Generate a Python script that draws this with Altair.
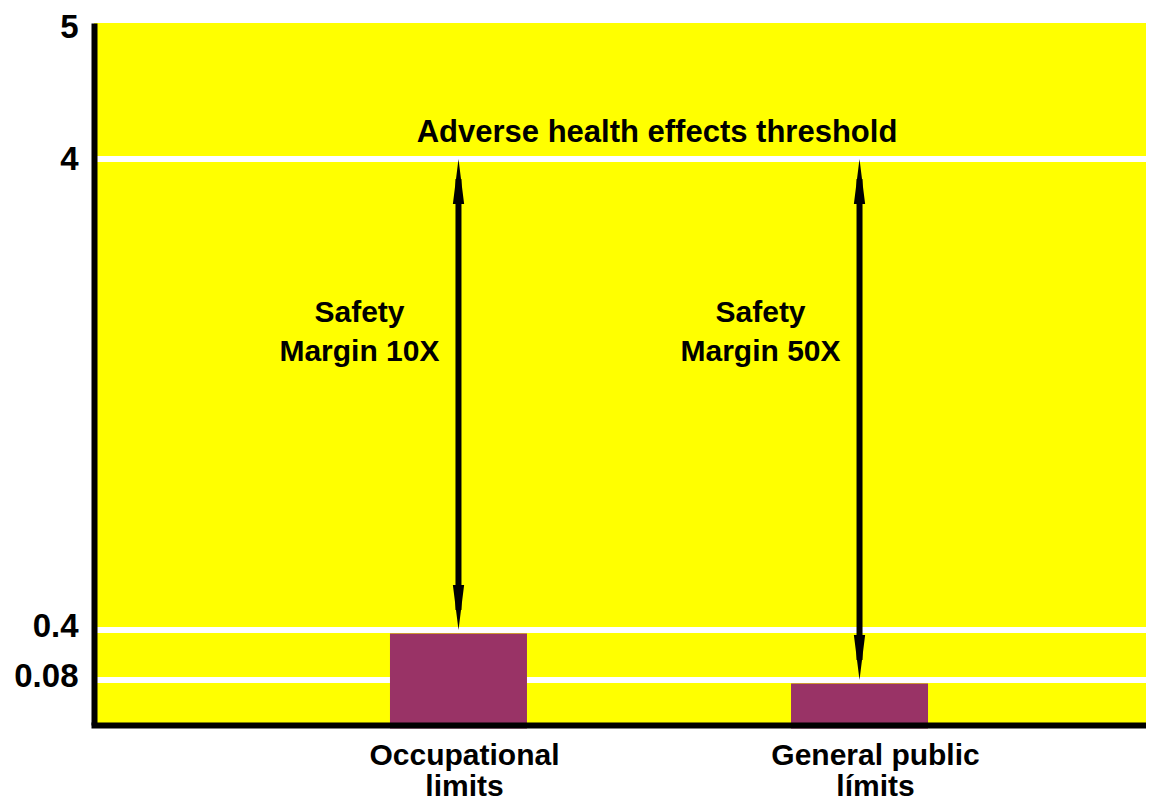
import altair as alt
import pandas as pd

# ---- data ----
categories = ["Occupational limits", "General public límits"]
limit_values = [0.4, 0.08]
threshold_value = 4
margin_labels = ["Safety\nMargin 10X", "Safety\nMargin 50X"]
margin_label_y = [2.82, 2.82]
y_ticks = [0.08, 0.4, 4, 5]
grid_values = [0.08, 0.4, 4]
threshold_label = ["Adverse health effects threshold"]
threshold_label_y = [4.19]

FONT = "Liberation Sans"

df = pd.DataFrame({
    "category": categories,
    "value": limit_values,
    "top": [threshold_value] * len(categories),
    "margin": margin_labels,
    "my": margin_label_y,
})
grid_df = pd.DataFrame({"v": grid_values})
thr_df = pd.DataFrame({"label": threshold_label, "y": threshold_label_y})

xscale = alt.Scale(domain=categories, range=[0, 1130], paddingInner=0.6584, paddingOuter=0.738)
yscale = alt.Scale(type="linear", domain=[0, 0.08, 0.4, 4, 5],
                   range=[702, 657, 607, 136, 0], nice=False, zero=False)

x_axis = alt.Axis(
    title=None, labelFontSize=30, labelFont=FONT, labelFontWeight="bold",
    labelColor="black", labelAngle=0, ticks=False, domainColor="black",
    domainWidth=6, domainCap="square", labelPadding=15, labelLineHeight=31,
    labelLimit=0, labelOverlap=False, zindex=1,
    labelOffset=alt.condition("indexof(datum.value, 'General') >= 0", alt.value(16), alt.value(6)),
    labelExpr="[slice(datum.label, 0, lastindexof(datum.label, ' ')), slice(datum.label, lastindexof(datum.label, ' ') + 1)]",
)
y_axis = alt.Axis(
    values=y_ticks, format="~g", title=None, grid=False, ticks=False,
    domainColor="black", domainWidth=6, labelFontSize=33, labelFont=FONT,
    labelFontWeight="bold", labelColor="black", labelPadding=16,
    labelOverlap=False, labelBound=False, zindex=1,
    labelOffset={"condition": [{"test": "datum.value == 5", "value": 4},
                               {"test": "datum.value < 1", "value": -4}],
                 "value": 0},
)


def X():
    return alt.X("category:N", scale=xscale, sort=categories, axis=x_axis)


def Y(field):
    return alt.Y(field, scale=yscale, axis=y_axis)


grid = alt.Chart(grid_df).mark_rule(color="white", strokeWidth=6).encode(
    y=Y("v:Q"),
)

bars = alt.Chart(df).mark_bar(color="#993366", yOffset=3.5).encode(
    x=X(),
    y=Y("value:Q"),
)

shaft = alt.Chart(df).mark_rule(color="black", strokeWidth=6, yOffset=20, y2Offset=-20).encode(
    x=X(),
    y=Y("top:Q"),
    y2="value:Q",
)

up_path = "M0,-1L0.25,1L-0.25,1Z"
down_path = "M0,1L0.25,-1L-0.25,-1Z"

head_up = alt.Chart(df).mark_point(
    shape=up_path, size=2025, filled=True, color="black", opacity=1, strokeWidth=0, yOffset=22.5
).encode(x=X(), y=Y("top:Q"))

head_down = alt.Chart(df).mark_point(
    shape=down_path, size=2025, filled=True, color="black", opacity=1, strokeWidth=0, yOffset=-22.5
).encode(x=X(), y=Y("value:Q"))

margin_text = alt.Chart(df).mark_text(
    font=FONT, fontSize=30, fontWeight="bold", color="black", lineBreak="\n",
    lineHeight=39, xOffset=-99, align="center", baseline="middle",
).encode(x=X(), y=Y("my:Q"), text="margin:N")

thr_text = alt.Chart(thr_df).mark_text(
    font=FONT, fontSize=31, fontWeight="bold", color="black",
    align="center", baseline="middle",
).encode(x=alt.value(563), y=Y("y:Q"), text="label:N")

chart = alt.layer(grid, bars, shaft, head_up, head_down, margin_text, thr_text).properties(
    width=1052, height=702, autosize="none",
    padding={"left": 86, "top": 15, "right": 0, "bottom": 79},
    background="white",
).configure_view(fill="#FFFF00", stroke=None, strokeWidth=0)

chart.save("out.html", embed_options={"renderer": "svg", "actions": False})
